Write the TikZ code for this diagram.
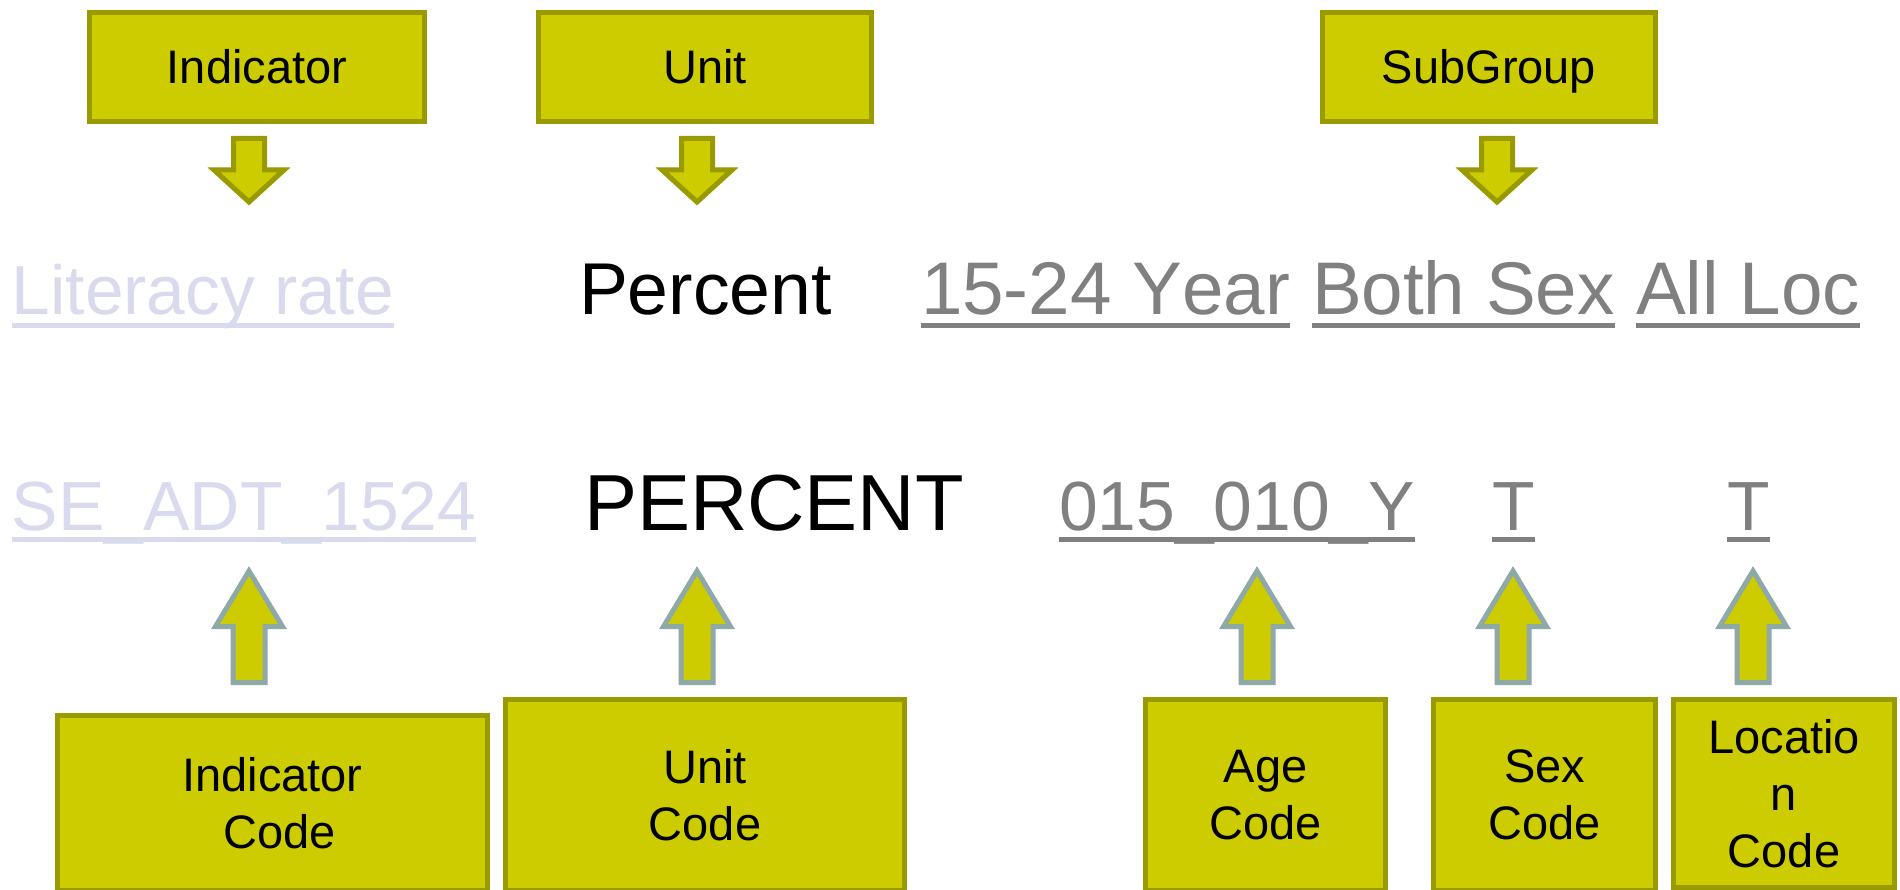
\documentclass[tikz,border=0pt]{standalone}
\usepackage{fontspec}
\setmainfont[Kerning=Off]{Liberation Sans}
\definecolor{boxfill}{HTML}{CCCC00}
\definecolor{boxline}{HTML}{999900}
\definecolor{upline}{HTML}{8FA8A8}
\definecolor{lav}{HTML}{DADAEE}
\definecolor{codegray}{HTML}{808080}
\tikzset{
  box/.style={draw=boxline, fill=boxfill, line width=5pt, inner sep=0pt, align=center,
    font=\fontsize{47}{57}\selectfont, text=black},
  topbox/.style={box, minimum height=109pt, text height=34pt, text depth=0pt},
  word/.style={anchor=base west, inner sep=0pt, outer sep=0pt},
  ul/.style={line width=5pt},
  dnarrow/.style={draw=boxline, fill=boxfill, line width=5pt, line join=miter},
  uparrow/.style={draw=upline, fill=boxfill, line width=5pt, line join=miter},
  pics/dnarr/.style={code={\draw[dnarrow] (-15.5,2.5) -- (15.5,2.5) -- (15.5,34) -- (35,34) -- (0,66) -- (-35,34) -- (-15.5,34) -- cycle;}},
  pics/uparr/.style={code={\draw[uparrow] (0,5) -- (33.5,60.5) -- (16,60.5) -- (16,116.5) -- (-16,116.5) -- (-16,60.5) -- (-33.5,60.5) -- cycle;}},
}
\begin{document}
\begin{tikzpicture}[x=1pt,y=-1pt]
\useasboundingbox (0,0) rectangle (1900,890);
\clip (0,0) rectangle (1900,890);
\fill[white] (0,0) rectangle (1900,890);

% top boxes
\node[topbox, minimum width=335pt] (bind) at (257,67) {Indicator};
\node[topbox, minimum width=333pt] (bunit) at (705,67) {Unit};
\node[topbox, minimum width=333pt] (bsub) at (1489,67) {SubGroup};

% down arrows
\pic at (249,136) {dnarr};
\pic at (697,136) {dnarr};
\pic at (1497,136) {dnarr};

% row 1 texts
\node[word, text=lav, font=\fontsize{69.4}{80}\selectfont] (lit) at (12,315) {Literacy rate};
\draw[ul, lav] ([yshift=-10.5pt]lit.base west) -- ([yshift=-10.5pt]lit.base east);
\node[word, font=\fontsize{73.4}{80}\selectfont] (pct) at (579,315) {Percent};
\node[word, text=codegray, font=\fontsize{74.6}{80}\selectfont] (yr) at (921,315) {15-24 Year};
\node[word, text=codegray, font=\fontsize{74.6}{80}\selectfont] (bs) at (1312,315) {Both Sex};
\node[word, text=codegray, font=\fontsize{74.6}{80}\selectfont] (al) at (1636,315) {All Loc};
\foreach \n in {yr,bs,al}
  \draw[ul, codegray] ([yshift=-10.5pt]\n.base west) -- ([yshift=-10.5pt]\n.base east);

% row 2 texts
\node[word, text=lav, font=\fontsize{69.6}{80}\selectfont] (se) at (12,530) {SE\_ADT\_1524};
\draw[ul, lav] ([yshift=-9.5pt]se.base west) -- ([yshift=-9.5pt]se.base east);
\node[word, font=\fontsize{79.5}{90}\selectfont] (pc) at (584,530) {PERCENT};
\node[word, text=codegray, font=\fontsize{69.6}{80}\selectfont] (ac) at (1059,530) {015\_010\_Y};
\node[word, text=codegray, font=\fontsize{69.6}{80}\selectfont] (sc) at (1492,530) {T};
\node[word, text=codegray, font=\fontsize{69.6}{80}\selectfont] (lc) at (1727,530) {T};
\foreach \n in {ac,sc,lc}
  \draw[ul, codegray] ([yshift=-9.5pt]\n.base west) -- ([yshift=-9.5pt]\n.base east);

% up arrows
\pic at (249,566) {uparr};
\pic at (697,566) {uparr};
\pic at (1257,566) {uparr};
\pic at (1513,566) {uparr};
\pic at (1753,566) {uparr};

% bottom boxes
\node[box, minimum width=430pt, minimum height=175pt] (bindc) at (272.5,803) {Indicator\\\hspace*{14pt}Code};
\node[box, minimum width=399pt, minimum height=191pt] (bunitc) at (705,795) {Unit\\Code};
\node[box, minimum width=240pt, minimum height=191pt] (bage) at (1265.5,795) {Age\\Code};
\node[box, minimum width=222pt, minimum height=191pt] (bsex) at (1544.5,795) {Sex\\Code};
\node[box, minimum width=221pt, minimum height=188pt] (bloc) at (1784,793.5) {Locatio\\n\\Code};
\end{tikzpicture}
\end{document}
